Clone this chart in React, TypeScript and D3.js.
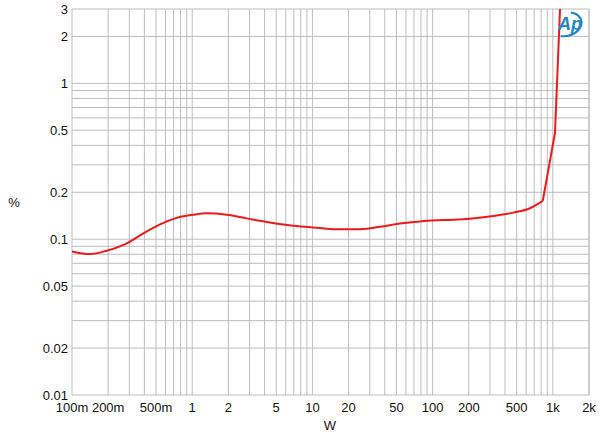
import React from 'react'
import * as d3 from 'd3'

// measured points (W, %)
const powerW = [
  0.1, 0.141, 0.194, 0.285, 0.392, 0.54, 0.743, 1.02, 1.32, 1.94, 2.84, 4.17,
  6.93, 11.6, 14.9, 24.9, 36.5, 53.5, 78.6, 122.7, 204.6, 320, 469, 646, 825,
  1043, 1148,
]
const thdPct = [
  0.0835, 0.0802, 0.0843, 0.094, 0.109, 0.1245, 0.137, 0.1435, 0.1465, 0.1435,
  0.136, 0.129, 0.122, 0.118, 0.116, 0.116, 0.12, 0.126, 0.13, 0.1326, 0.135,
  0.1406, 0.148, 0.158, 0.176, 0.482, 3.0,
]

const xTicks = [0.1, 0.2, 0.5, 1, 2, 5, 10, 20, 50, 100, 200, 500, 1000, 2000]
const xTickLabels = ['100m', '200m', '500m', '1', '2', '5', '10', '20', '50', '100', '200', '500', '1k', '2k']
const yTicks = [0.01, 0.02, 0.05, 0.1, 0.2, 0.5, 1, 2, 3]
const yTickLabels = ['0.01', '0.02', '0.05', '0.1', '0.2', '0.5', '1', '2', '3']

const W = 600
const H = 440
const margin = { top: 9, right: 11, bottom: 45, left: 72 }

export default function App() {
  const x = d3
    .scaleLog()
    .domain([0.1, 2000])
    .range([margin.left, W - margin.right])
  const y = d3
    .scaleLog()
    .domain([0.01, 3])
    .range([H - margin.bottom, margin.top])

  // minor grid: every 1..9 step of each decade
  const xGrid: number[] = []
  for (let d = 0.1; d < 2000; d *= 10) {
    for (let k = 1; k <= 9; k++) {
      const v = d * k
      if (v <= 2000 * 1.0001) xGrid.push(v)
    }
  }
  xGrid.push(2000)
  const yGrid: number[] = []
  for (let d = 0.01; d < 3; d *= 10) {
    for (let k = 1; k <= 9; k++) {
      const v = d * k
      if (v <= 3 * 1.0001) yGrid.push(v)
    }
  }

  const pts = powerW.map((p, i) => [p, thdPct[i]] as [number, number])
  // smooth part up to the clipping knee, straight segments after it
  const knee = powerW.indexOf(825)
  const smooth = d3
    .line<[number, number]>()
    .x((d) => x(d[0]))
    .y((d) => y(d[1]))
    .curve(d3.curveMonotoneX)
  const straight = d3
    .line<[number, number]>()
    .x((d) => x(d[0]))
    .y((d) => y(d[1]))

  const font = '"Liberation Sans", Arial, sans-serif'
  const red = '#ec1a1a'

  return (
    <svg
      width={W}
      height={H}
      style={{ position: 'absolute', left: 0, top: 0, background: '#fff' }}
      fontFamily={font}
    >
      <g stroke="#bdbdbd" strokeWidth={1}>
        {xGrid.map((v, i) => (
          <line key={'x' + i} x1={x(v)} x2={x(v)} y1={y(3)} y2={y(0.01)} />
        ))}
        {yGrid.map((v, i) => (
          <line key={'y' + i} x1={x(0.1)} x2={x(2000)} y1={y(v)} y2={y(v)} />
        ))}
      </g>

      <defs>
        <clipPath id="plot">
          <rect x={x(0.1)} y={y(3)} width={x(2000) - x(0.1)} height={y(0.01) - y(3)} />
        </clipPath>
      </defs>
      <g clipPath="url(#plot)" fill="none" stroke={red} strokeWidth={2} strokeLinejoin="round">
        <path d={smooth(pts.slice(0, knee + 1)) || ''} />
        <path d={straight(pts.slice(knee)) || ''} />
      </g>

      {yTicks.map((v, i) => (
        <text key={'yt' + i} x={68} y={y(v) + 5} textAnchor="end" fontSize={13} fill="#111">
          {yTickLabels[i]}
        </text>
      ))}
      {xTicks.map((v, i) => (
        <text key={'xt' + i} x={x(v)} y={412} textAnchor="middle" fontSize={13} fill="#111">
          {xTickLabels[i]}
        </text>
      ))}
      <text x={14} y={207} textAnchor="middle" fontSize={13} fill="#111">%</text>
      <text x={330} y={430} textAnchor="middle" fontSize={13} fill="#111">W</text>

      {/* Audio Precision logo */}
      <g transform="translate(571,24)">
        <path
          d="M -13 9 A 15 11 0 1 0 3 -11"
          fill="none"
          stroke="#1f86c8"
          strokeWidth={2.2}
          transform="rotate(-15)"
        />
        <text x={-1} y={6} textAnchor="middle" fontSize={18} fontStyle="italic" fontWeight="bold" fill="#1f86c8" fontFamily={font}>
          Ap
        </text>
      </g>
    </svg>
  )
}
